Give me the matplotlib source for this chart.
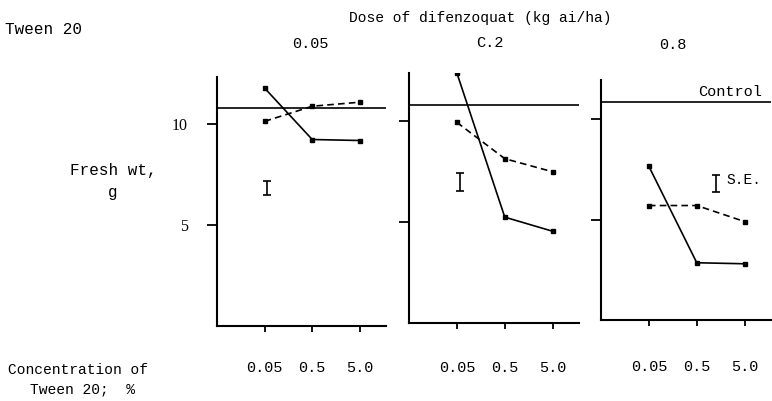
import matplotlib
matplotlib.use("Agg")
import matplotlib.pyplot as plt
import numpy as np

plt.rcParams['font.family'] = ['Liberation Mono', 'DejaVu Sans']

# difenzoquat doses (one panel each) and Tween 20 concentrations (x axis)
doses = ['0.05', 'C.2', '0.8']
conc_labels = ['0.05', '0.5', '5.0']
conc_pos = [0, 1, 2]

# fresh weight (g), solid and dashed series per dose panel
solid_wt = [
    [11.8, 9.25, 9.2],
    [12.4, 5.25, 4.55],
    [7.65, 2.85, 2.8],
]
dashed_wt = [
    [10.15, 10.9, 11.1],
    [9.95, 8.15, 7.5],
    [5.7, 5.7, 4.9],
]
control_wt = [10.83, 10.8, 10.84]

# standard error bar drawn in each panel
se_x = [0.05, 0.06, 1.4]
se_mid = [6.85, 7.0, 6.8]
se_half = [0.36, 0.46, 0.44]

W, H = 772, 401
fig = plt.figure(figsize=(W / 100, H / 100), dpi=100)
fig.patch.set_facecolor('white')

def fx(px):
    return px / W

def fy(py):
    return 1 - py / H

# panel boxes in pixels: left, top, right, bottom
boxes = [(217, 77, 386, 326), (409, 73, 579, 323), (601, 80, 771, 320)]
ytops = [12.35, 12.4, 11.95]
xpads = [21, 23, 25]

for i, (l, t, r, b) in enumerate(boxes):
    ax = fig.add_axes([fx(l), fy(b), (r - l) / W, (b - t) / H])
    ax.set_facecolor('none')
    ax.set_xlim(-1.0, 2.55)
    ax.set_ylim(0, ytops[i])
    for s in ['top', 'right']:
        ax.spines[s].set_visible(False)
    for s in ['left', 'bottom']:
        ax.spines[s].set_linewidth(1.5)
        ax.spines[s].set_color('black')

    ax.axhline(control_wt[i], color='black', lw=1.2)
    ax.plot(conc_pos, solid_wt[i], color='black', lw=1.2,
            marker='s', ms=3)
    ax.plot(conc_pos, dashed_wt[i], color='black', lw=1.2,
            linestyle=(0, (4, 2.5)), marker='s', ms=2.5)
    ax.errorbar([se_x[i]], [se_mid[i]], yerr=[se_half[i]], fmt='none',
                ecolor='black', elinewidth=1.2, capsize=3, capthick=1.2)

    ax.set_xticks(conc_pos)
    ax.set_xticklabels(conc_labels, fontsize=11)
    ax.tick_params(axis='x', direction='out', length=4, width=1.3,
                   pad=xpads[i])
    ax.set_yticks([5, 10])
    if i == 0:
        ax.set_yticklabels(['5', '10'], fontsize=11.5,
                           family=['Liberation Serif'])
        ax.tick_params(axis='y', direction='out', length=7, width=1.3, pad=14)
    else:
        ax.set_yticklabels([])
        ax.tick_params(axis='y', direction='out', length=7, width=1.3)

# header texts
fig.text(fx(5), fy(29), 'Tween 20', fontsize=11.5, va='center', ha='left')
fig.text(fx(480), fy(18), 'Dose of difenzoquat (kg ai/ha)', fontsize=10.5,
         va='center', ha='center')
for px, py, lab in zip([310, 490, 673], [44, 43, 45], doses):
    fig.text(fx(px), fy(py), lab, fontsize=11, va='center', ha='center')

# y label
fig.text(fx(113), fy(170), 'Fresh wt,', fontsize=11.5, va='center',
         ha='center')
fig.text(fx(113), fy(193), 'g', fontsize=11.5, va='center', ha='center')

# x label
fig.text(fx(8), fy(370), 'Concentration of', fontsize=10.5, va='center',
         ha='left')
fig.text(fx(30), fy(389), 'Tween 20;  %', fontsize=10.5, va='center',
         ha='left')

# annotations in third panel
fig.text(fx(698), fy(92), 'Control', fontsize=11, va='center', ha='left')
fig.text(fx(726), fy(180), 'S.E.', fontsize=10.5, va='center', ha='left')

fig.savefig('out.png', dpi=100)
